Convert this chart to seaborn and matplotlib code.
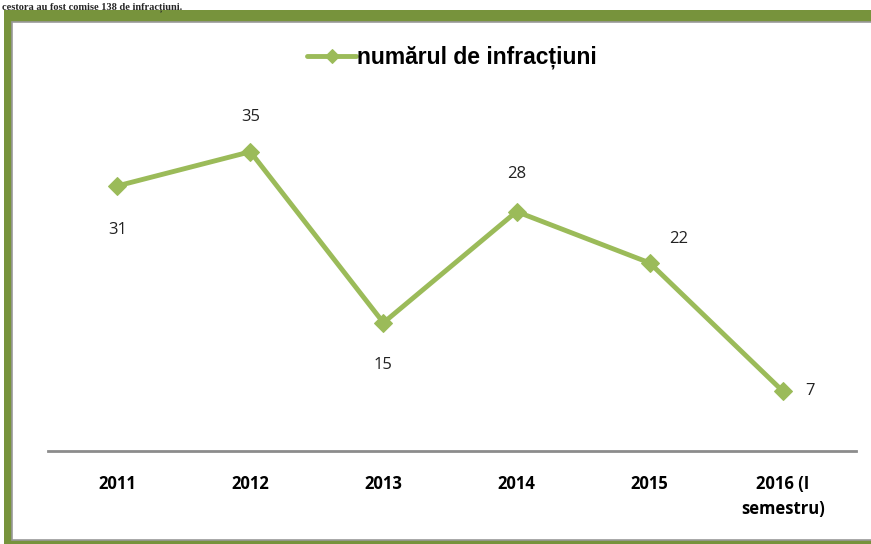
import matplotlib
matplotlib.use("Agg")
import matplotlib.pyplot as plt
import seaborn as sns
import pandas as pd
from matplotlib.patches import Rectangle

categories = ["2011", "2012", "2013", "2014", "2015", "2016 (I\nsemestru)"]
values = [31, 35, 15, 28, 22, 7]
series_name = "numărul de infracțiuni"

sns.set_theme(style="white")
plt.rcParams['font.family'] = ['Open Sans', 'DejaVu Sans']

W, H = 871, 544
fig = plt.figure(figsize=(W / 100, H / 100), dpi=100)

# frame
green = "#77933C"
fig.patches.append(Rectangle((4 / W, 0), 1, 1 - 10 / H, transform=fig.transFigure,
                             facecolor=green, edgecolor="none", zorder=-2))
fig.patches.append(Rectangle((12 / W, 4 / H), 1, 1 - 22 / H - 4 / H, transform=fig.transFigure,
                             facecolor="white", edgecolor="#999999", linewidth=1.2, zorder=-1))
fig.text(0.002, 1 - 9 / H, "cestora au fost comise 138 de infracțiuni.", fontsize=7.5,
         fontweight="bold", family=["Liberation Serif", "DejaVu Serif"], va="baseline", ha="left")

ax = fig.add_axes([48 / W, 1 - 451 / H, 808 / W, 342 / H])
ax.set_zorder(2)
ax.set_facecolor("none")
df = pd.DataFrame({"cat": categories, "val": values})
sns.lineplot(data=df, x="cat", y="val", ax=ax, color="#9BBB59", linewidth=3.5,
             marker="D", markersize=9, markeredgecolor="#9BBB59", sort=False,
             label=series_name)
ax.set_xlim(-0.52, 5.55)
ax.set_ylim(0, 40)
ax.set_xlabel("")
ax.set_ylabel("")
ax.set_yticks([])
for s in ["top", "right", "left"]:
    ax.spines[s].set_visible(False)
ax.spines["bottom"].set_color("#8c8c8c")
ax.spines["bottom"].set_linewidth(2)
ax.tick_params(axis="x", length=0, pad=17, labelsize=12, labelcolor="black")
for t in ax.get_xticklabels():
    t.set_fontweight("bold")
    t.set_linespacing(1.55)

offsets = [(0, -26, "center", "top"), (0, 19, "center", "bottom"), (0, -25, "center", "top"),
           (0, 21, "center", "bottom"), (14, 17, "left", "center"), (16, 0, "left", "center")]
for i, (v, (dx, dy, ha, va)) in enumerate(zip(values, offsets)):
    ax.annotate(str(v), (i, v), xytext=(dx, dy), textcoords="offset points",
                ha=ha, va=va, fontsize=12, color="#222222")

leg = ax.legend(loc="center", bbox_to_anchor=(0.5, 1.15), frameon=False,
                prop={"family": ["Liberation Sans", "DejaVu Sans"], "weight": "bold", "size": 16.5},
                handlelength=2.1, handletextpad=0.05, markerscale=0.75, labelcolor="black")

fig.savefig("out.png", dpi=100)
